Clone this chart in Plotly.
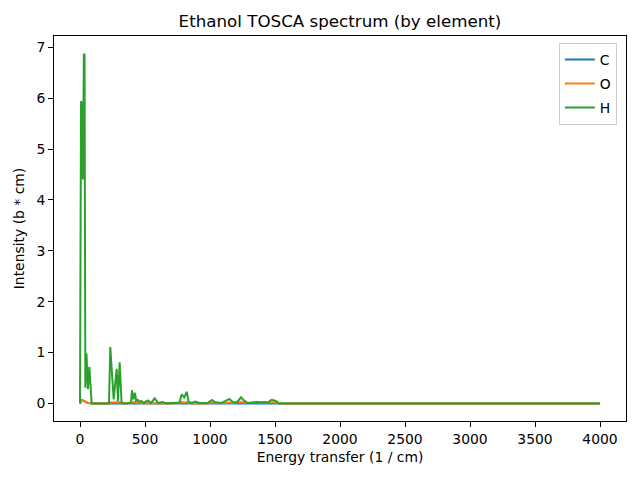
#!/usr/bin/env python3
# Ethanol TOSCA spectrum split by element, redrawn with plotly

import plotly.graph_objects as go

# Data/variables
energy = [0, 8, 13, 22, 30, 35, 41, 50, 61, 72, 90, 150, 223, 233, 259, 282, 292, 305, 320, 360,
          392, 400, 410, 423, 432, 445, 455, 470, 490, 523, 545, 575, 600, 636, 660, 720, 765, 782,
          802, 821, 836, 860, 887, 920, 980, 1015, 1040, 1059, 1090, 1120, 1148, 1180, 1210, 1238,
          1265, 1290, 1330, 1367, 1390, 1418, 1445, 1474, 1508, 1530, 1600, 2000, 2500, 2850, 2920,
          2990, 3500, 4000]

intensity_H = [0, 5.94, 5.90, 4.40, 6.87, 6.85, 0.31, 0.98, 0.28, 0.72, 0.0, 0.0, 0.0, 1.11, 0.08,
               0.68, 0.05, 0.81, 0.01, 0.0, 0.02, 0.26, 0.08, 0.21, 0.05, 0.07, 0.03, 0.05, 0.01,
               0.06, 0.01, 0.10, 0.01, 0.03, 0.0, 0.01, 0.02, 0.18, 0.12, 0.23, 0.03, 0.01, 0.04,
               0.01, 0.01, 0.07, 0.02, 0.02, 0.01, 0.05, 0.09, 0.02, 0.03, 0.12, 0.05, 0.01, 0.02,
               0.03, 0.02, 0.03, 0.02, 0.07, 0.05, 0.0, 0.0, 0.0, 0.0, 0.005, 0.012, 0.005, 0.0, 0.0]

intensity_O = [0, 0.05, 0.06, 0.05, 0.04, 0.03, 0.02, 0.01, 0.01, 0.01, 0.0, 0.0, 0.0, 0.02, 0.02,
               0.02, 0.02, 0.03, 0.01, 0.0, 0.01, 0.03, 0.02, 0.03, 0.02, 0.02, 0.01, 0.01, 0.0,
               0.01, 0.0, 0.01, 0.0, 0.0, 0.0, 0.0, 0.01, 0.03, 0.02, 0.03, 0.01, 0.0, 0.01,
               0.0, 0.0, 0.02, 0.01, 0.01, 0.01, 0.02, 0.02, 0.01, 0.02, 0.03, 0.02, 0.01, 0.02,
               0.02, 0.02, 0.02, 0.02, 0.03, 0.02, 0.0, 0.0, 0.0, 0.0, 0.0, 0.005, 0.0, 0.0, 0.0]

intensity_C = [0, 0.06, 0.07, 0.06, 0.05, 0.04, 0.02, 0.01, 0.01, 0.01, 0.0, 0.0, 0.0, 0.01, 0.01,
               0.01, 0.01, 0.01, 0.0, 0.0, 0.0, 0.01, 0.01, 0.01, 0.01, 0.01, 0.0, 0.0, 0.0,
               0.0, 0.0, 0.01, 0.0, 0.0, 0.0, 0.0, 0.0, 0.01, 0.01, 0.01, 0.0, 0.0, 0.0,
               0.0, 0.0, 0.01, 0.0, 0.0, 0.0, 0.01, 0.01, 0.0, 0.01, 0.01, 0.01, 0.0, 0.01,
               0.01, 0.01, 0.01, 0.01, 0.01, 0.01, 0.0, 0.0, 0.0, 0.0, 0.0, 0.0, 0.0, 0.0, 0.0]

elements = ['C', 'O', 'H']
colours = ['#1f77b4', '#ff7f0e', '#2ca02c']
series = [intensity_C, intensity_O, intensity_H]

x_ticks = [0, 500, 1000, 1500, 2000, 2500, 3000, 3500, 4000]
y_ticks = [0, 1, 2, 3, 4, 5, 6, 7]

fig = go.Figure()

# one line per element, H drawn last so it sits on top
for name, colour, values in zip(elements, colours, series):
    fig.add_trace(go.Scatter(x=energy, y=values, name=name, mode='lines', legendgroup=name,
                             line=dict(color=colour, width=2)))

axis_style = dict(showline=True, linecolor='black', linewidth=1, mirror=True, ticks='outside',
                  ticklen=5, tickcolor='black', showgrid=False, zeroline=False, automargin=False,
                  tickfont=dict(size=13.9, color='black'))

fig.update_xaxes(range=[-200, 4200], tickvals=x_ticks, title_text='Energy transfer (1 / cm)',
                 title_font=dict(size=13.9, color='black'), title_standoff=6, **axis_style)
fig.update_yaxes(range=[-0.344, 7.22], tickvals=y_ticks, title_text='Intensity (b * cm)',
                 title_font=dict(size=13.9, color='black'), title_standoff=8, **axis_style)

# page body has an 8px margin, so the figure is sized 8px smaller and margins shifted
fig.update_layout(
    width=632,
    height=472,
    margin=dict(l=46, r=14, t=28, b=59, autoexpand=False),
    paper_bgcolor='white',
    plot_bgcolor='white',
    font=dict(family='DejaVu Sans', color='black'),
    title=dict(text='Ethanol TOSCA spectrum (by element)', x=332 / 632, xanchor='center',
               y=1 - 13 / 472, yanchor='middle', font=dict(size=16.7, color='black')),
    legend=dict(x=0.984, y=0.982, xanchor='right', yanchor='top', bgcolor='rgba(255,255,255,0.8)',
                bordercolor='#cccccc', borderwidth=1, font=dict(size=13.9), itemwidth=30,
                tracegroupgap=3),
    showlegend=True,
)

fig.write_html('out.html')
